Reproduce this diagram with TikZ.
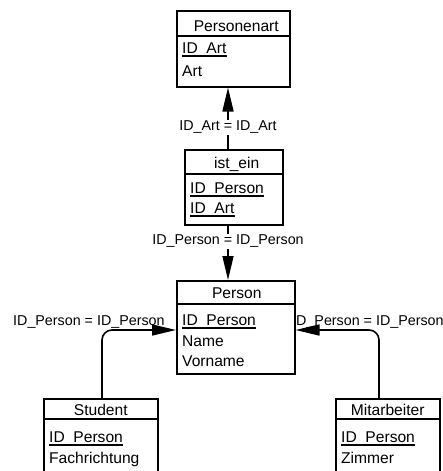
\documentclass[tikz,border=0pt]{standalone}
\usepackage{fontspec}
\setmainfont{Liberation Sans}
\usetikzlibrary{arrows.meta}
\begin{document}
\begin{tikzpicture}[x=1pt,y=-1pt,
  box/.style={draw, line width=1.5pt, fill=white, inner sep=0pt, anchor=north west},
  hdr/.style={anchor=base, inner sep=0pt, font=\fontsize{15.6}{18}\selectfont},
  fld/.style={anchor=base west, inner sep=0pt, font=\fontsize{15.6}{18}\selectfont},
  lbl/.style={fill=white, inner sep=1pt, font=\fontsize{14.3}{16}\selectfont},
  side/.style={anchor=base west, inner sep=0pt, font=\fontsize{14.3}{16}\selectfont},
  arr/.style={line width=1.6pt, -{Triangle[length=24pt,width=11pt]}},
  sep/.style={line width=1.8pt},
  uline/.style={line width=2.2pt}]
\useasboundingbox (0,0) rectangle (443,471);
\clip (0,0) rectangle (443,471);

% Personenart
\node[box, minimum width=113pt, minimum height=76pt] (pa) at (176,10) {};
\draw[sep] ([yshift=-26pt]pa.north west) -- ([yshift=-26pt]pa.north east);
\node[hdr] (pah) at ([xshift=3pt,yshift=-21pt]pa.north) {Personenart};
\node[fld] (pa1) at ([xshift=6pt,yshift=-43pt]pa.north west) {ID\_Art};
\node[fld] (pa2) at ([xshift=6pt,yshift=-66pt]pa.north west) {Art};
\draw[uline] ([yshift=-3pt]pa1.base west) -- ([yshift=-3pt]pa1.base east);

% ist_ein
\node[box, minimum width=98pt, minimum height=75pt] (ie) at (184,149) {};
\draw[sep] ([yshift=-25pt]ie.north west) -- ([yshift=-25pt]ie.north east);
\node[hdr] (ieh) at ([xshift=3pt,yshift=-19pt]ie.north) {ist\_ein};
\node[fld] (ie1) at ([xshift=6pt,yshift=-44pt]ie.north west) {ID\_Person};
\node[fld] (ie2) at ([xshift=6pt,yshift=-64pt]ie.north west) {ID\_Art};
\draw[uline] ([yshift=-3pt]ie1.base west) -- ([yshift=-3pt]ie1.base east);
\draw[uline] ([yshift=-3pt]ie2.base west) -- ([yshift=-3pt]ie2.base east);

% Person
\node[box, minimum width=118pt, minimum height=93pt] (pe) at (176,280) {};
\draw[sep] ([yshift=-24pt]pe.north west) -- ([yshift=-24pt]pe.north east);
\node[hdr] (peh) at ([xshift=1pt,yshift=-18pt]pe.north) {Person};
\node[fld] (pe1) at ([xshift=6pt,yshift=-45pt]pe.north west) {ID\_Person};
\node[fld] (pe2) at ([xshift=6pt,yshift=-66pt]pe.north west) {Name};
\node[fld] (pe3) at ([xshift=6pt,yshift=-86pt]pe.north west) {Vorname};
\draw[uline] ([yshift=-3pt]pe1.base west) -- ([yshift=-3pt]pe1.base east);

% Student
\node[box, minimum width=114pt, minimum height=90pt] (st) at (43,398) {};
\draw[sep] ([yshift=-21pt]st.north west) -- ([yshift=-21pt]st.north east);
\node[hdr] (sth) at ([yshift=-17pt]st.north) {Student};
\node[fld] (st1) at ([xshift=6pt,yshift=-44pt]st.north west) {ID\_Person};
\node[fld] (st2) at ([xshift=6pt,yshift=-65pt]st.north west) {Fachrichtung};
\draw[uline] ([yshift=-3pt]st1.base west) -- ([yshift=-3pt]st1.base east);

% Mitarbeiter
\node[box, minimum width=104pt, minimum height=90pt] (mi) at (335,398) {};
\draw[sep] ([yshift=-21pt]mi.north west) -- ([yshift=-21pt]mi.north east);
\node[hdr] (mih) at ([yshift=-17pt]mi.north) {Mitarbeiter};
\node[fld] (mi1) at ([xshift=6pt,yshift=-44pt]mi.north west) {ID\_Person};
\node[fld] (mi2) at ([xshift=6pt,yshift=-65pt]mi.north west) {Zimmer};
\draw[uline] ([yshift=-3pt]mi1.base west) -- ([yshift=-3pt]mi1.base east);

% relationships
\coordinate (ax) at (228,0);
\coordinate (lj) at (102,330);
\coordinate (rj) at (379,330);
\draw[arr] (ie.north -| ax) -- node[lbl, pos=0.35] (l1) {ID\_Art = ID\_Art} (pa.south -| ax);
\draw[arr] (ie.south -| ax) -- node[lbl, pos=0.29] (l2) {ID\_Person = ID\_Person} (pe.north -| ax);
\draw[arr, rounded corners=10pt] (st.north -| lj) |- (pe.west |- lj);
\draw[arr, rounded corners=10pt] (mi.north -| rj) |- (pe.east |- rj);
\node[side] (l3) at (13,325) {ID\_Person = ID\_Person};
\node[side] (l4) at (296,325) {D\_Person = ID\_Person};
\end{tikzpicture}
\end{document}
